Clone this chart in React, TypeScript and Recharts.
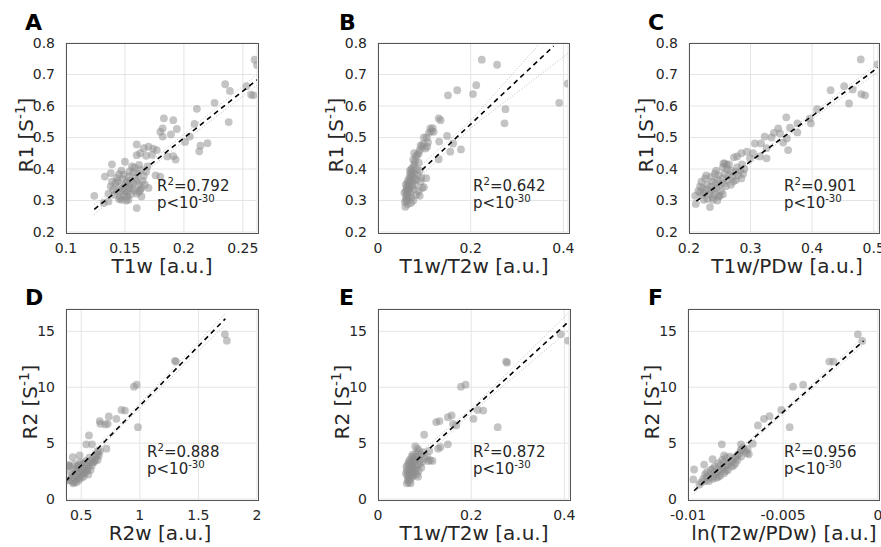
import { ScatterChart, Scatter, XAxis, YAxis, CartesianGrid } from 'recharts'

type Pt = [number, number]

// A: T1w vs R1
const pointsA: Pt[] = [
  [0.260, 0.747], [0.262, 0.730], [0.235, 0.669], [0.239, 0.648], [0.253, 0.663], [0.257, 0.636], [0.259, 0.634],
  [0.226, 0.610], [0.238, 0.549], [0.211, 0.591], [0.209, 0.543], [0.220, 0.482], [0.214, 0.474], [0.213, 0.456],
  [0.205, 0.503], [0.201, 0.486], [0.194, 0.527], [0.191, 0.555], [0.183, 0.561], [0.182, 0.529], [0.180, 0.518],
  [0.182, 0.503], [0.189, 0.510], [0.186, 0.440], [0.191, 0.441], [0.193, 0.430], [0.170, 0.471], [0.174, 0.465],
  [0.166, 0.466], [0.160, 0.444], [0.163, 0.450], [0.160, 0.478], [0.168, 0.442], [0.150, 0.423], [0.173, 0.445],
  [0.177, 0.460], [0.176, 0.380], [0.180, 0.376], [0.169, 0.408], [0.162, 0.413], [0.156, 0.408], [0.154, 0.392],
  [0.139, 0.415], [0.133, 0.376], [0.138, 0.387], [0.145, 0.384], [0.124, 0.315], [0.132, 0.292], [0.136, 0.297],
  [0.160, 0.276], [0.147, 0.302], [0.153, 0.302], [0.164, 0.313], [0.163, 0.334], [0.152, 0.360],
  [0.142, 0.355], [0.145, 0.345], [0.148, 0.338], [0.150, 0.330], [0.152, 0.325], [0.146, 0.330], [0.143, 0.328],
  [0.140, 0.335], [0.138, 0.345], [0.144, 0.362], [0.148, 0.368], [0.151, 0.355], [0.154, 0.348], [0.156, 0.340],
  [0.158, 0.332], [0.155, 0.320], [0.152, 0.312], [0.149, 0.318], [0.146, 0.310], [0.157, 0.355], [0.160, 0.362],
  [0.159, 0.372], [0.162, 0.350], [0.164, 0.340], [0.165, 0.362], [0.161, 0.385], [0.157, 0.390], [0.153, 0.375],
  [0.149, 0.382], [0.147, 0.395], [0.166, 0.378], [0.168, 0.392], [0.163, 0.398], [0.158, 0.405], [0.143, 0.372],
  [0.139, 0.360], [0.136, 0.322], [0.141, 0.318], [0.150, 0.346], [0.153, 0.338], [0.160, 0.322], [0.162, 0.328],
  [0.167, 0.350], [0.170, 0.340], [0.155, 0.365], [0.145, 0.305], [0.151, 0.300],
]
const fitA: Pt[] = [[0.124, 0.272], [0.262, 0.683]]
const ciUpA: Pt[] = [[0.124, 0.288], [0.170, 0.418], [0.262, 0.700]]
const ciLoA: Pt[] = [[0.124, 0.256], [0.170, 0.400], [0.262, 0.666]]

// B: T1w/T2w vs R1
const pointsB: Pt[] = [
  [0.224, 0.747], [0.257, 0.731], [0.391, 0.610], [0.409, 0.671], [0.275, 0.590], [0.273, 0.545], [0.212, 0.666],
  [0.205, 0.638], [0.171, 0.650], [0.151, 0.634], [0.131, 0.561], [0.135, 0.555], [0.149, 0.505], [0.132, 0.487],
  [0.162, 0.481], [0.156, 0.455], [0.179, 0.462], [0.131, 0.431], [0.113, 0.529], [0.120, 0.518], [0.099, 0.500],
  [0.106, 0.471], [0.095, 0.471], [0.088, 0.450], [0.104, 0.371], [0.099, 0.342], [0.090, 0.315],
  [0.059, 0.280], [0.058, 0.295], [0.060, 0.305], [0.062, 0.300], [0.061, 0.315], [0.063, 0.320], [0.057, 0.325],
  [0.060, 0.330], [0.064, 0.335], [0.062, 0.340], [0.066, 0.330], [0.065, 0.345], [0.060, 0.350], [0.063, 0.355],
  [0.067, 0.352], [0.068, 0.340], [0.070, 0.325], [0.072, 0.310], [0.066, 0.310], [0.069, 0.360], [0.065, 0.365],
  [0.071, 0.370], [0.068, 0.375], [0.073, 0.380], [0.070, 0.385], [0.074, 0.392], [0.072, 0.400], [0.076, 0.405],
  [0.069, 0.395], [0.075, 0.360], [0.078, 0.370], [0.074, 0.345], [0.077, 0.335], [0.080, 0.350], [0.082, 0.365],
  [0.079, 0.385], [0.078, 0.415], [0.080, 0.425], [0.076, 0.430], [0.082, 0.440], [0.078, 0.450], [0.085, 0.445],
  [0.088, 0.420], [0.084, 0.400], [0.086, 0.380], [0.090, 0.395], [0.092, 0.360], [0.095, 0.340], [0.088, 0.330],
  [0.094, 0.372], [0.083, 0.318], [0.076, 0.300], [0.071, 0.292], [0.064, 0.288], [0.090, 0.460], [0.092, 0.475],
  [0.098, 0.480], [0.105, 0.500], [0.110, 0.515], [0.115, 0.520], [0.118, 0.530], [0.108, 0.485], [0.102, 0.465],
]
const fitB: Pt[] = [[0.095, 0.397], [0.379, 0.790]]
const ciUpB: Pt[] = [[0.095, 0.415], [0.200, 0.553], [0.350, 0.800]]
const ciLoB: Pt[] = [[0.095, 0.380], [0.200, 0.530], [0.409, 0.766]]

// C: T1w/PDw vs R1
const pointsC: Pt[] = [
  [0.479, 0.748], [0.506, 0.732], [0.480, 0.638], [0.486, 0.634], [0.460, 0.608], [0.466, 0.652], [0.452, 0.663],
  [0.430, 0.650], [0.408, 0.590], [0.398, 0.545], [0.396, 0.560], [0.376, 0.516], [0.376, 0.545], [0.358, 0.564],
  [0.364, 0.531], [0.359, 0.497], [0.361, 0.460], [0.353, 0.484], [0.345, 0.529], [0.338, 0.515], [0.348, 0.513],
  [0.334, 0.500], [0.323, 0.503], [0.317, 0.481], [0.307, 0.481], [0.326, 0.466], [0.304, 0.450], [0.294, 0.455],
  [0.299, 0.434], [0.315, 0.440], [0.326, 0.434], [0.285, 0.450], [0.278, 0.440], [0.273, 0.437], [0.256, 0.418],
  [0.261, 0.413], [0.211, 0.289], [0.210, 0.315], [0.234, 0.279], [0.224, 0.302], [0.239, 0.302], [0.248, 0.313],
  [0.215, 0.330], [0.218, 0.345], [0.220, 0.360], [0.222, 0.340], [0.225, 0.325], [0.228, 0.335], [0.230, 0.350],
  [0.226, 0.370], [0.232, 0.320], [0.235, 0.330], [0.236, 0.345], [0.238, 0.360], [0.240, 0.335], [0.242, 0.320],
  [0.245, 0.340], [0.244, 0.355], [0.247, 0.365], [0.250, 0.350], [0.252, 0.330], [0.248, 0.380], [0.242, 0.385],
  [0.255, 0.370], [0.258, 0.385], [0.256, 0.355], [0.260, 0.345], [0.262, 0.365], [0.265, 0.380], [0.268, 0.395],
  [0.262, 0.400], [0.255, 0.405], [0.258, 0.418], [0.265, 0.415], [0.270, 0.375], [0.272, 0.360], [0.275, 0.390],
  [0.278, 0.405], [0.280, 0.380], [0.283, 0.395], [0.285, 0.370], [0.288, 0.385], [0.290, 0.400], [0.286, 0.415],
  [0.276, 0.365], [0.268, 0.350], [0.250, 0.315], [0.255, 0.320], [0.246, 0.300], [0.238, 0.310], [0.230, 0.305],
  [0.222, 0.318], [0.218, 0.325], [0.228, 0.380], [0.236, 0.375], [0.244, 0.395],
]
const fitC: Pt[] = [[0.212, 0.298], [0.507, 0.722]]
const ciUpC: Pt[] = [[0.212, 0.310], [0.330, 0.472], [0.507, 0.735]]
const ciLoC: Pt[] = [[0.212, 0.286], [0.330, 0.462], [0.507, 0.708]]

// D: R2w vs R2
const pointsD: Pt[] = [
  [1.726, 14.73], [1.743, 14.17], [1.308, 12.30], [1.300, 12.36], [0.950, 10.05], [0.973, 10.23], [0.844, 7.97],
  [0.873, 7.91], [0.800, 7.17], [0.735, 7.38], [0.658, 6.97], [0.663, 6.73], [0.706, 6.67], [0.726, 6.73],
  [0.984, 6.43], [0.566, 5.69], [0.715, 4.50], [0.543, 4.89], [0.592, 4.89], [0.486, 3.91], [0.428, 3.74],
  [0.643, 4.30], [0.391, 3.02],
  [0.40, 1.70], [0.42, 1.60], [0.43, 1.40], [0.44, 1.90], [0.45, 2.10], [0.46, 1.80], [0.47, 2.30], [0.48, 2.00],
  [0.49, 2.50], [0.50, 2.20], [0.51, 2.60], [0.52, 2.40], [0.53, 2.80], [0.54, 2.60], [0.55, 3.00], [0.56, 2.80],
  [0.57, 3.20], [0.58, 3.40], [0.60, 3.60], [0.62, 3.50], [0.63, 3.80], [0.64, 4.10], [0.65, 3.90], [0.61, 3.30],
  [0.59, 3.00], [0.47, 2.80], [0.45, 2.60], [0.43, 2.20], [0.41, 2.40], [0.40, 2.90], [0.39, 3.00], [0.44, 3.10],
  [0.46, 2.90], [0.48, 3.00], [0.50, 3.10], [0.52, 3.20], [0.50, 2.70], [0.53, 2.30], [0.55, 2.50], [0.56, 2.20],
  [0.58, 2.60], [0.48, 1.70], [0.46, 1.50], [0.50, 1.90], [0.52, 2.00], [0.44, 1.50], [0.42, 1.90], [0.38, 1.70],
  [0.51, 2.90], [0.49, 3.30], [0.54, 3.40], [0.57, 3.70], [0.60, 3.30], [0.62, 3.90], [0.64, 3.50], [0.66, 4.30],
]
const fitD: Pt[] = [[0.368, 1.6], [1.73, 16.13]]
const ciUpD: Pt[] = [[0.368, 2.1], [0.8, 6.35], [1.73, 16.6]]
const ciLoD: Pt[] = [[0.368, 1.1], [0.8, 6.05], [1.73, 15.6]]

// E: T1w/T2w vs R2
const pointsE: Pt[] = [
  [0.392, 14.73], [0.408, 14.17], [0.275, 12.30], [0.277, 12.20], [0.178, 10.05], [0.188, 10.23], [0.214, 7.97],
  [0.226, 7.91], [0.205, 7.17], [0.257, 6.43], [0.150, 7.32], [0.158, 7.47], [0.125, 6.88], [0.132, 6.97],
  [0.161, 6.73], [0.168, 6.58], [0.099, 5.75], [0.150, 4.89], [0.129, 4.50], [0.134, 4.65], [0.112, 3.47],
  [0.117, 3.41],
  [0.062, 1.40], [0.064, 1.70], [0.063, 2.10], [0.066, 1.90], [0.065, 2.40], [0.068, 2.20], [0.067, 2.70],
  [0.070, 2.50], [0.069, 3.00], [0.072, 2.80], [0.071, 3.30], [0.074, 3.10], [0.073, 2.30], [0.076, 2.60],
  [0.075, 3.60], [0.078, 3.40], [0.077, 2.90], [0.080, 3.20], [0.079, 3.80], [0.082, 3.60], [0.081, 2.70],
  [0.084, 3.00], [0.083, 4.10], [0.086, 3.80], [0.085, 4.50], [0.088, 4.30], [0.090, 3.50], [0.092, 4.00],
  [0.087, 2.50], [0.060, 2.30], [0.061, 2.90], [0.064, 3.10], [0.066, 1.50], [0.070, 1.80], [0.073, 2.00],
  [0.076, 2.10], [0.079, 2.40], [0.095, 3.30], [0.100, 3.60], [0.105, 3.80], [0.108, 3.40], [0.110, 4.30],
  [0.098, 4.20], [0.093, 2.80], [0.062, 2.60], [0.068, 3.50], [0.072, 3.80], [0.075, 4.00], [0.080, 4.70],
  [0.083, 2.20], [0.086, 2.00], [0.089, 3.10], [0.066, 3.30], [0.070, 1.40],
]
const fitE: Pt[] = [[0.083, 3.47], [0.41, 15.9]]
const ciUpE: Pt[] = [[0.083, 3.9], [0.2, 8.1], [0.41, 16.7]]
const ciLoE: Pt[] = [[0.083, 3.0], [0.2, 7.7], [0.41, 15.1]]

// F: ln(T2w/PDw) vs R2
const pointsF: Pt[] = [
  [-0.00106, 14.73], [-0.00083, 14.14], [-0.00256, 12.30], [-0.00235, 12.30], [-0.00447, 10.05], [-0.00394, 10.23],
  [-0.00509, 7.97], [-0.00465, 6.43], [-0.00571, 7.41], [-0.00600, 7.17], [-0.00632, 6.58], [-0.00659, 4.95],
  [-0.00686, 4.45], [-0.00721, 4.89], [-0.00968, 2.64], [-0.00972, 1.75], [-0.00915, 3.08], [-0.00871, 3.56],
  [-0.00822, 4.89], [-0.00810, 3.91], [-0.00721, 4.36],
  [-0.0093, 1.5], [-0.0092, 1.8], [-0.0091, 1.6], [-0.0090, 2.0], [-0.0089, 1.9], [-0.0088, 2.2], [-0.0087, 2.0],
  [-0.0086, 2.4], [-0.0085, 2.3], [-0.0084, 2.6], [-0.0083, 2.5], [-0.0082, 2.8], [-0.0081, 2.7], [-0.0080, 3.0],
  [-0.0079, 3.1], [-0.0078, 3.3], [-0.0077, 3.4], [-0.0076, 3.6], [-0.0075, 3.7], [-0.0074, 3.9], [-0.0073, 4.1],
  [-0.0072, 4.4], [-0.0071, 4.6], [-0.0070, 4.3], [-0.0069, 4.1], [-0.0090, 2.4], [-0.0088, 2.6], [-0.0086, 2.9],
  [-0.0084, 3.2], [-0.0082, 3.5], [-0.0080, 3.7], [-0.0078, 3.8], [-0.0085, 1.9], [-0.0083, 2.1], [-0.0081, 2.3],
  [-0.0079, 2.6], [-0.0077, 2.9], [-0.0075, 3.2], [-0.0094, 1.3], [-0.0091, 2.2], [-0.0087, 2.7], [-0.0083, 3.0],
  [-0.0081, 3.3], [-0.0089, 1.6], [-0.0087, 1.8], [-0.0084, 2.0], [-0.0080, 2.5], [-0.0076, 3.0], [-0.0074, 3.5],
  [-0.0072, 3.8], [-0.0068, 4.0],
]
const fitF: Pt[] = [[-0.00968, 0.74], [-0.00076, 14.14]]
const ciUpF: Pt[] = [[-0.00968, 1.0], [-0.005, 7.9], [-0.00076, 14.5]]
const ciLoF: Pt[] = [[-0.00968, 0.5], [-0.005, 7.6], [-0.00076, 13.8]]

const r1Ticks = [0.2, 0.3, 0.4, 0.5, 0.6, 0.7, 0.8]
const r2Ticks = [0, 5, 10, 15]
const t1wTicks = [0.1, 0.15, 0.2, 0.25]
const ratioTicks = [0, 0.2, 0.4]
const pdTicks = [0.2, 0.3, 0.4, 0.5]
const r2wTicks = [0.5, 1, 1.5, 2]
const lnTicks = [-0.01, -0.005, 0]

const r2Values = ['0.792', '0.642', '0.901', '0.888', '0.872', '0.956']

interface PanelDef {
  letter: string
  left: number
  top: number
  w: number
  h: number
  xDomain: [number, number]
  yDomain: [number, number]
  xTicks: number[]
  yTicks: number[]
  points: Pt[]
  fit: Pt[]
  ciUp: Pt[]
  ciLo: Pt[]
  yLabel: string
  xLabel: string
  yLabelPos: [number, number]
  xLabelPos: [number, number]
  letterPos: [number, number]
  notePos: [number, number]
  r2: string
}

const panels: PanelDef[] = [
  {
    letter: 'A', left: 66, top: 43, w: 191, h: 189, xDomain: [0.1, 0.262], yDomain: [0.2, 0.8],
    xTicks: t1wTicks, yTicks: r1Ticks, points: pointsA, fit: fitA, ciUp: ciUpA, ciLo: ciLoA,
    yLabel: 'R1', xLabel: 'T1w [a.u.]', yLabelPos: [26, 135], xLabelPos: [162, 266], letterPos: [25, 12],
    notePos: [157, 178], r2: r2Values[0],
  },
  {
    letter: 'B', left: 378, top: 43, w: 190, h: 189, xDomain: [0, 0.41], yDomain: [0.2, 0.8],
    xTicks: ratioTicks, yTicks: r1Ticks, points: pointsB, fit: fitB, ciUp: ciUpB, ciLo: ciLoB,
    yLabel: 'R1', xLabel: 'T1w/T2w [a.u.]', yLabelPos: [336, 135], xLabelPos: [474, 266], letterPos: [339, 12],
    notePos: [473, 178], r2: r2Values[1],
  },
  {
    letter: 'C', left: 689, top: 43, w: 189, h: 189, xDomain: [0.2, 0.507], yDomain: [0.2, 0.8],
    xTicks: pdTicks, yTicks: r1Ticks, points: pointsC, fit: fitC, ciUp: ciUpC, ciLo: ciLoC,
    yLabel: 'R1', xLabel: 'T1w/PDw [a.u.]', yLabelPos: [646, 135], xLabelPos: [787, 266], letterPos: [648, 12],
    notePos: [784, 178], r2: r2Values[2],
  },
  {
    letter: 'D', left: 66, top: 309, w: 191, h: 190, xDomain: [0.37, 2], yDomain: [0, 17],
    xTicks: r2wTicks, yTicks: r2Ticks, points: pointsD, fit: fitD, ciUp: ciUpD, ciLo: ciLoD,
    yLabel: 'R2', xLabel: 'R2w [a.u.]', yLabelPos: [30, 402], xLabelPos: [160, 533], letterPos: [25, 287],
    notePos: [147, 444], r2: r2Values[3],
  },
  {
    letter: 'E', left: 378, top: 309, w: 191, h: 190, xDomain: [0, 0.41], yDomain: [0, 17],
    xTicks: ratioTicks, yTicks: r2Ticks, points: pointsE, fit: fitE, ciUp: ciUpE, ciLo: ciLoE,
    yLabel: 'R2', xLabel: 'T1w/T2w [a.u.]', yLabelPos: [342, 402], xLabelPos: [474, 533], letterPos: [339, 287],
    notePos: [473, 444], r2: r2Values[4],
  },
  {
    letter: 'F', left: 688, top: 309, w: 190, h: 190, xDomain: [-0.01, 0], yDomain: [0, 17],
    xTicks: lnTicks, yTicks: r2Ticks, points: pointsF, fit: fitF, ciUp: ciUpF, ciLo: ciLoF,
    yLabel: 'R2', xLabel: 'ln(T2w/PDw) [a.u.]', yLabelPos: [652, 402], xLabelPos: [784, 533], letterPos: [648, 287],
    notePos: [784, 444], r2: r2Values[5],
  },
]

const FONT = '"DejaVu Sans", sans-serif'
const INK = '#262626'

const toObj = (arr: Pt[]) => arr.map(([x, y]) => ({ x, y }))

const Dot = (props: any) => (
  <circle cx={props.cx} cy={props.cy} r={3.9} fill="#8e8e8e" fillOpacity={0.52} />
)
const NoDot = () => <g />

const sup = { fontSize: '0.68em', verticalAlign: 'super', lineHeight: 0 } as const

function Panel({ p }: { p: PanelDef }) {
  const padL = 60
  const padT = 10
  const padR = 14
  const padB = 32
  const tickStyle = { fill: INK, fontSize: 14, fontFamily: FONT }
  return (
    <div style={{ position: 'absolute', left: p.left - padL, top: p.top - padT }}>
      <ScatterChart
        width={p.w + padL + padR}
        height={p.h + padT + padB}
        margin={{ top: padT, right: padR, bottom: 0, left: 0 }}
      >
        <CartesianGrid stroke="#e4e4e4" strokeWidth={1} />
        <XAxis
          type="number"
          dataKey="x"
          domain={p.xDomain}
          ticks={p.xTicks}
          interval={0}
          allowDataOverflow
          height={padB}
          axisLine={false}
          tickLine={false}
          tickMargin={5}
          tick={tickStyle}
        />
        <YAxis
          type="number"
          dataKey="y"
          domain={p.yDomain}
          ticks={p.yTicks}
          interval={0}
          allowDataOverflow
          width={padL}
          axisLine={false}
          tickLine={false}
          tickMargin={5}
          tick={tickStyle}
        />
        <Scatter data={toObj(p.points)} shape={Dot} isAnimationActive={false} />
        <Scatter
          data={toObj(p.ciUp)}
          shape={NoDot}
          line={{ stroke: '#bcbcbc', strokeWidth: 1, strokeDasharray: '1 2' }}
          isAnimationActive={false}
        />
        <Scatter
          data={toObj(p.ciLo)}
          shape={NoDot}
          line={{ stroke: '#bcbcbc', strokeWidth: 1, strokeDasharray: '1 2' }}
          isAnimationActive={false}
        />
        <Scatter
          data={toObj(p.fit)}
          shape={NoDot}
          line={{ stroke: '#000', strokeWidth: 1.6, strokeDasharray: '5 4' }}
          isAnimationActive={false}
        />
      </ScatterChart>
    </div>
  )
}

function Texts({ p }: { p: PanelDef }) {
  return (
    <>
      {/* axes box */}
      <div
        style={{
          position: 'absolute', left: p.left - 0.5, top: p.top - 0.5, width: p.w, height: p.h,
          border: '1px solid #555', pointerEvents: 'none',
        }}
      />
      <div
        style={{
          position: 'absolute', left: p.letterPos[0], top: p.letterPos[1], fontSize: 22, lineHeight: '22px',
          fontWeight: 'bold', color: '#000',
        }}
      >
        {p.letter}
      </div>
      <div
        style={{
          position: 'absolute', left: p.yLabelPos[0], top: p.yLabelPos[1], fontSize: 20, lineHeight: '20px',
          whiteSpace: 'nowrap', transform: 'translate(-50%, -50%) rotate(-90deg)', color: INK,
        }}
      >
        {p.yLabel} [S<span style={sup}>-1</span>]
      </div>
      <div
        style={{
          position: 'absolute', left: p.xLabelPos[0], top: p.xLabelPos[1], fontSize: 20, lineHeight: '20px',
          whiteSpace: 'nowrap', transform: 'translate(-50%, -50%)', color: INK,
        }}
      >
        {p.xLabel}
      </div>
      <div
        style={{
          position: 'absolute', left: p.notePos[0], top: p.notePos[1], fontSize: 15, lineHeight: '17px',
          whiteSpace: 'nowrap', color: INK,
        }}
      >
        <div>R<span style={sup}>2</span>={p.r2}</div>
        <div>p&lt;10<span style={sup}>-30</span></div>
      </div>
    </>
  )
}

export default function App() {
  return (
    <div
      style={{
        position: 'absolute', left: 0, top: 0, width: 881, height: 547, overflow: 'hidden',
        background: '#fff', fontFamily: FONT,
      }}
    >
      {panels.map((p) => (
        <Panel key={p.letter} p={p} />
      ))}
      {panels.map((p) => (
        <Texts key={'t' + p.letter} p={p} />
      ))}
    </div>
  )
}
